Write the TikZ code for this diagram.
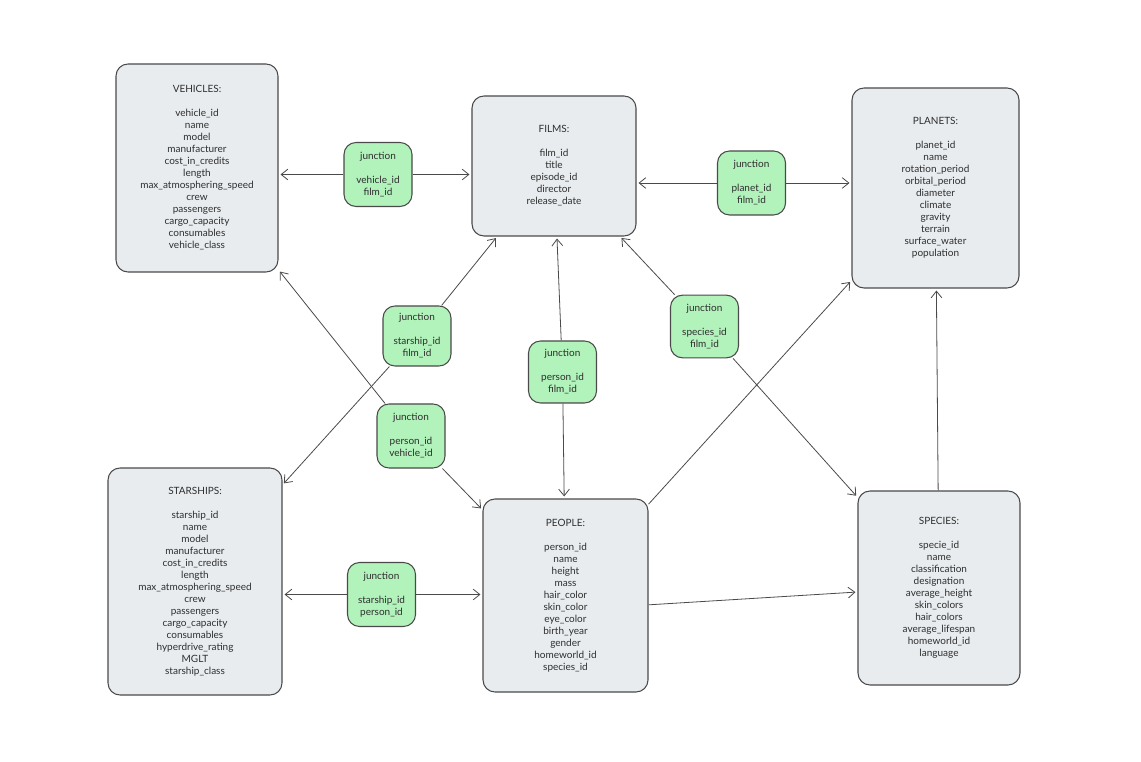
\documentclass[tikz,border=0pt]{standalone}
\usepackage{fontspec}
\setmainfont{Lato}
\usetikzlibrary{arrows.meta}
\definecolor{tablefill}{HTML}{E9ECEF}
\definecolor{junctfill}{HTML}{B2F2BB}
\definecolor{edgegray}{HTML}{4A4A4A}
\definecolor{txtgray}{HTML}{2E2E2E}
\tikzset{
  tablebox/.style={draw=edgegray,fill=tablefill,line width=0.8pt,rounded corners=9pt,
    align=center,inner sep=0pt,text=txtgray,font=\fontsize{7.5}{9}\selectfont},
  junctbox/.style={tablebox,fill=junctfill,minimum width=51pt,minimum height=48pt},
  relation/.style={draw=edgegray,line width=0.6pt,shorten >=1.5pt,
    -{Straight Barb[length=5pt,width=8pt]}}
}
\begin{document}
\begin{tikzpicture}[x=0.75pt,y=-0.75pt]
                \useasboundingbox (0,0) rectangle (1141,762);
                \node[tablebox,minimum width=121.5pt,minimum height=156pt] (vehicles) at (197,168)
                  {VEHICLES:\\[9pt]vehicle\_id\\name\\model\\manufacturer\\cost\_in\_credits\\length\\max\_atmosphering\_speed\\crew\\passengers\\cargo\_capacity\\consumables\\vehicle\_class};
                \node[tablebox,minimum width=123pt,minimum height=105pt] (films) at (554,166)
                  {FILMS:\\[9pt]film\_id\\title\\episode\_id\\director\\release\_date};
                \node[tablebox,minimum width=125.25pt,minimum height=150pt] (planets) at (935.5,188)
                  {PLANETS:\\[9pt]planet\_id\\name\\rotation\_period\\orbital\_period\\diameter\\climate\\gravity\\terrain\\surface\_water\\population};
                \node[tablebox,minimum width=130.5pt,minimum height=170.25pt] (starships) at (195,581.5)
                  {STARSHIPS:\\[9pt]starship\_id\\name\\model\\manufacturer\\cost\_in\_credits\\length\\max\_atmosphering\_speed\\crew\\passengers\\cargo\_capacity\\consumables\\hyperdrive\_rating\\MGLT\\starship\_class};
                \node[tablebox,minimum width=123.75pt,minimum height=144.75pt] (people) at (565.5,595.5)
                  {PEOPLE:\\[9pt]person\_id\\name\\height\\mass\\hair\_color\\skin\_color\\eye\_color\\birth\_year\\gender\\homeworld\_id\\species\_id};
                \node[tablebox,minimum width=121.5pt,minimum height=145.5pt] (species) at (939,588)
                  {SPECIES:\\[9pt]specie\_id\\name\\classification\\designation\\average\_height\\skin\_colors\\hair\_colors\\average\_lifespan\\homeworld\_id\\language};
                \node[junctbox] (jvehfilm) at (378,174.5) {junction\\[9pt]vehicle\_id\\film\_id};
                \node[junctbox] (jplanfilm) at (751.5,183) {junction\\[9pt]planet\_id\\film\_id};
                \node[junctbox,minimum height=45pt] (jshipfilm) at (417,336) {junction\\[9pt]starship\_id\\film\_id};
                \node[junctbox,minimum height=46.5pt] (jpersfilm) at (562.5,372) {junction\\[9pt]person\_id\\film\_id};
                \node[junctbox,minimum height=47pt] (jspecfilm) at (704.5,326.5) {junction\\[9pt]species\_id\\film\_id};
                \node[junctbox] (jpersveh) at (411,436) {junction\\[9pt]person\_id\\vehicle\_id};
                \node[junctbox] (jshippers) at (381.5,594.5) {junction\\[9pt]starship\_id\\person\_id};
                \draw[relation] (jvehfilm.west) -- (jvehfilm.west -| vehicles.east);
                \draw[relation] (jvehfilm.east) -- (jvehfilm.east -| films.west);
                \draw[relation] (jplanfilm.west) -- (jplanfilm.west -| films.east);
                \draw[relation] (jplanfilm.east) -- (jplanfilm.east -| planets.west);
                \draw[relation] (jshipfilm) -- (films);
                \draw[relation] (jshipfilm) -- (starships);
                \draw[relation] (jpersfilm) -- (films);
                \draw[relation] (jpersfilm) -- (people);
                \draw[relation] (jspecfilm) -- (films);
                \draw[relation] (jspecfilm) -- (species);
                \draw[relation] (jpersveh) -- (vehicles);
                \draw[relation] (jpersveh) -- (people);
                \draw[relation] (jshippers.west) -- (jshippers.west -| starships.east);
                \draw[relation] (jshippers.east) -- (jshippers.east -| people.west);
                \draw[relation] (people) -- (planets);
                \draw[relation] ([yshift=-7pt]people.east) -- ([yshift=-3pt]species.west);
                \draw[relation] (species) -- (planets);
\end{tikzpicture}
\end{document}
